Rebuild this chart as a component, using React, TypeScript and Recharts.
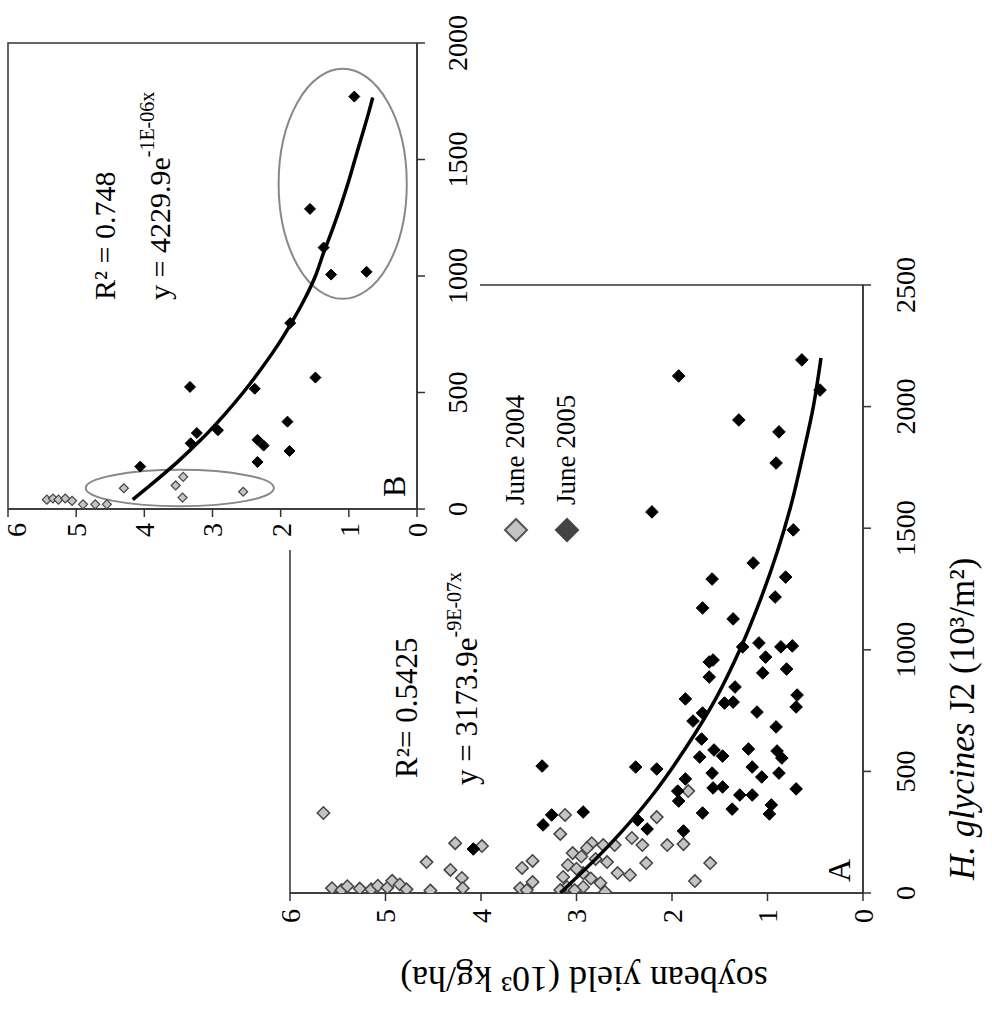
import React from "react";
import { ScatterChart, Scatter, XAxis, YAxis, ReferenceArea, Legend } from "recharts";

const FONT = "'Liberation Serif', 'Times New Roman', serif";

// axis ticks
const yieldTicks = [0, 1, 2, 3, 4, 5, 6];
const aJ2Ticks = [0, 500, 1000, 1500, 2000, 2500];
const bJ2Ticks = [0, 500, 1000, 1500, 2000];

// panel A, [J2 (10^3/m2), yield (10^3 kg/ha)]
const aJune2004: [number, number][] = [
  [329, 5.65], [20, 5.56], [12, 5.46], [28, 5.4], [18, 5.27], [15, 5.15], [30, 5.08],
  [22, 4.98], [50, 4.93], [35, 4.85], [15, 4.78], [10, 4.53], [127, 4.57], [95, 4.32],
  [205, 4.27], [62, 4.2], [20, 4.19], [193, 3.99], [103, 3.57], [132, 3.46], [45, 3.46],
  [20, 3.59], [12, 3.52], [321, 3.12], [243, 3.17], [164, 3.04], [115, 3.09], [66, 3.14],
  [25, 3.1], [205, 2.84], [185, 2.89], [197, 2.72], [197, 2.6], [127, 2.68], [82, 2.57],
  [74, 2.44], [226, 2.42], [197, 2.31], [123, 2.27], [312, 2.16], [197, 2.05], [201, 1.88],
  [419, 1.83], [123, 1.6], [49, 1.76], [25, 2.93], [41, 2.75], [4, 2.7], [12, 3.02],
  [12, 3.17], [82, 2.93], [150, 2.95], [100, 3.0], [60, 2.85], [140, 2.8],
];
const aJune2005: [number, number][] = [
  [181, 4.08], [522, 3.36], [321, 3.26], [280, 3.35], [333, 2.93], [300, 2.36], [263, 2.26],
  [255, 1.88], [518, 2.38], [510, 2.16], [469, 1.86], [419, 1.94], [378, 1.93], [432, 1.57],
  [436, 1.47], [403, 1.29], [403, 1.16], [428, 0.7], [329, 1.68], [345, 1.37], [362, 0.96],
  [325, 0.98], [633, 1.69], [588, 1.56], [563, 1.47], [592, 1.2], [584, 0.9], [555, 0.85],
  [559, 1.71], [518, 1.16], [493, 1.58], [477, 1.06], [493, 0.88], [798, 1.86], [781, 1.45],
  [785, 1.36], [744, 1.11], [740, 1.68], [707, 1.78], [683, 0.91], [814, 0.69], [765, 0.7],
  [847, 1.34], [950, 1.61], [958, 1.57], [888, 1.61], [905, 1.05], [921, 0.8], [1012, 1.26],
  [1028, 1.09], [970, 1.02], [1012, 0.86], [1016, 0.74], [1172, 1.68], [1127, 1.36],
  [1217, 0.92], [1291, 1.58], [1299, 0.81], [1357, 1.15], [1493, 0.73], [1567, 2.21],
  [1768, 0.91], [1896, 0.88], [1945, 1.3], [2068, 0.45], [2126, 1.93], [2192, 0.64],
];
const aTrend: [number, number][] = [
  [0, 3.17], [200, 2.65], [400, 2.21], [600, 1.85], [800, 1.54], [1000, 1.29], [1200, 1.08],
  [1400, 0.9], [1600, 0.75], [1800, 0.63], [2000, 0.52], [2200, 0.44],
];

// panel B (inset)
const bJune2004: [number, number][] = [
  [40, 5.43], [45, 5.34], [40, 5.26], [45, 5.16], [35, 5.06], [20, 4.9], [20, 4.72], [20, 4.55],
  [89, 4.3], [101, 3.54], [138, 3.43], [49, 3.44], [74, 2.55],
];
const bJune2005: [number, number][] = [
  [182, 4.06], [524, 3.33], [282, 3.32], [326, 3.23], [338, 2.92], [202, 2.34], [297, 2.34],
  [272, 2.25], [516, 2.38], [375, 1.9], [249, 1.87], [798, 1.86], [564, 1.49], [1288, 1.57],
  [1122, 1.37], [1006, 1.26], [1018, 0.74], [1770, 0.92],
];
const bTrend: [number, number][] = [
  [40, 4.17], [100, 3.92], [200, 3.52], [300, 3.16], [400, 2.84], [500, 2.55], [600, 2.29],
  [700, 2.05], [800, 1.84], [900, 1.65], [1000, 1.49], [1100, 1.37], [1200, 1.24], [1300, 1.12],
  [1400, 1.01], [1500, 0.91], [1600, 0.81], [1700, 0.71], [1766, 0.65],
];
// circled groups: [J2 from, J2 to, yield from, yield to]
const bCircles: [number, number, number, number][] = [
  [902, 1889, 0.15, 2.03],
  [12, 168, 2.1, 4.86],
];

const legendItems = [
  { name: "June 2004", fill: "#c4c4c4", stroke: "#555" },
  { name: "June 2005", fill: "#444", stroke: "#444" },
];

const toPts = (arr: [number, number][]) => arr.map(([x, y]) => ({ x, y }));

const diamond = (r: number, fill: string, stroke: string, sw: number) => (p: any) => {
  const { cx, cy } = p;
  if (cx == null || cy == null) return <g />;
  return (
    <path
      d={`M${cx},${cy - r}L${cx + r},${cy}L${cx},${cy + r}L${cx - r},${cy}Z`}
      fill={fill}
      stroke={stroke}
      strokeWidth={sw}
    />
  );
};

const noDot = () => <g />;

const ellipse = (p: any) => {
  const { x, y, width, height } = p;
  return (
    <ellipse
      cx={x + width / 2}
      cy={y + height / 2}
      rx={Math.abs(width) / 2}
      ry={Math.abs(height) / 2}
      fill="none"
      stroke="#888"
      strokeWidth={2}
    />
  );
};

const tickStyle = { fontSize: 28, fontFamily: FONT, fill: "#000" };
const axisStroke = { stroke: "#333", strokeWidth: 1.5 };

function LegendBox() {
  return (
    <div style={{ fontFamily: FONT, fontSize: 27, color: "#000" }}>
      {legendItems.map((it) => (
        <div key={it.name} style={{ display: "flex", alignItems: "center", height: 51 }}>
          <svg width={26} height={26} style={{ marginRight: 12 }}>
            <path d="M13,2L24,13L13,24L2,13Z" fill={it.fill} stroke={it.stroke} strokeWidth={2} />
          </svg>
          <span>{it.name}</span>
        </div>
      ))}
    </div>
  );
}

export default function App() {
  return (
    <div style={{ position: "absolute", left: 0, top: 0, width: 992, height: 1009, overflow: "hidden", background: "#fff" }}>
      <div
        style={{
          position: "absolute",
          left: 0,
          top: 0,
          width: 1009,
          height: 992,
          transformOrigin: "0 0",
          transform: "translate(0px, 1009px) rotate(-90deg)",
          fontFamily: FONT,
        }}
      >
        {/* panel A */}
        <div style={{ position: "absolute", left: 0, top: 0 }}>
          <ScatterChart width={1009} height={992} margin={{ top: 290, right: 285, bottom: 0, left: 0 }}>
            <XAxis
              type="number"
              dataKey="x"
              domain={[0, 2500]}
              ticks={aJ2Ticks}
              height={129}
              tickSize={8}
              tickMargin={24}
              tick={tickStyle}
              axisLine={axisStroke}
              tickLine={axisStroke}
              allowDataOverflow
            />
            <YAxis
              type="number"
              dataKey="y"
              domain={[0, 6]}
              ticks={yieldTicks}
              width={116}
              tickSize={8}
              tickMargin={8}
              tick={tickStyle}
              axisLine={axisStroke}
              tickLine={axisStroke}
              allowDataOverflow
            />
            <ReferenceArea x1={0} x2={2500} y1={0} y2={6} fill="none" stroke="#333" strokeWidth={1.5} />
            <Scatter name="June 2004" data={toPts(aJune2004)} shape={diamond(6.2, "#c4c4c4", "#444", 1.5)} isAnimationActive={false} />
            <Scatter name="June 2005" data={toPts(aJune2005)} shape={diamond(6.3, "#000", "#000", 1)} isAnimationActive={false} />
            <Scatter
              data={toPts(aTrend)}
              line={{ stroke: "#000", strokeWidth: 3.5 }}
              lineJointType="monotoneX"
              shape={noDot}
              legendType="none"
              isAnimationActive={false}
            />
            <Legend
              layout="horizontal"
              verticalAlign="middle"
              align="center"
              wrapperStyle={{ left: 466, top: 490, width: 220 }}
              content={() => <LegendBox />}
            />
          </ScatterChart>
        </div>

        {/* panel B inset */}
        <div style={{ position: "absolute", left: 459, top: 0, background: "#fff" }}>
          <ScatterChart width={550} height={480} margin={{ top: 8, right: 43, bottom: 0, left: 0 }}>
            <XAxis
              type="number"
              dataKey="x"
              domain={[0, 2000]}
              ticks={bJ2Ticks}
              height={63}
              tickSize={8}
              tickMargin={22}
              tick={tickStyle}
              axisLine={axisStroke}
              tickLine={axisStroke}
              allowDataOverflow
            />
            <YAxis
              type="number"
              dataKey="y"
              domain={[0, 6]}
              ticks={yieldTicks}
              width={41}
              tickSize={8}
              tickMargin={6}
              tick={tickStyle}
              axisLine={axisStroke}
              tickLine={axisStroke}
              allowDataOverflow
            />
            <ReferenceArea x1={0} x2={2000} y1={0} y2={6} fill="none" stroke="#333" strokeWidth={1.5} />
            {bCircles.map(([x1, x2, y1, y2], i) => (
              <ReferenceArea key={i} x1={x1} x2={x2} y1={y1} y2={y2} shape={ellipse} ifOverflow="visible" />
            ))}
            <Scatter name="June 2004" data={toPts(bJune2004)} shape={diamond(4.5, "#c4c4c4", "#444", 1.2)} isAnimationActive={false} />
            <Scatter name="June 2005" data={toPts(bJune2005)} shape={diamond(5.5, "#000", "#000", 1)} isAnimationActive={false} />
            <Scatter
              data={toPts(bTrend)}
              line={{ stroke: "#000", strokeWidth: 3.5 }}
              lineJointType="monotoneX"
              shape={noDot}
              legendType="none"
              isAnimationActive={false}
            />
          </ScatterChart>
        </div>

        {/* titles and annotations */}
        <svg
          width={1009}
          height={992}
          style={{ position: "absolute", left: 0, top: 0, pointerEvents: "none" }}
          fontFamily={FONT}
          fill="#000"
        >
          <text x={129} y={974} fontSize={35}>
            <tspan fontStyle="italic">H. glycines</tspan> J2 (10³/m²)
          </text>
          <text x={42} y={584} fontSize={36} textAnchor="middle" transform="rotate(-90 42 584)">
            soybean yield (10³ kg/ha)
          </text>
          <text x={127} y={850} fontSize={32}>A</text>
          <text x={512} y={405} fontSize={32}>B</text>
          <text x={231} y={417} fontSize={31}>R²= 0.5425</text>
          <text x={224} y={477} fontSize={31}>
            y = 3173.9e<tspan dy={-16} fontSize={20}>-9E-07x</tspan>
          </text>
          <text x={709} y={115} fontSize={30}>R² = 0.748</text>
          <text x={709} y={170} fontSize={30}>
            y = 4229.9e<tspan dy={-16} fontSize={20}>-1E-06x</tspan>
          </text>
        </svg>
      </div>
    </div>
  );
}
